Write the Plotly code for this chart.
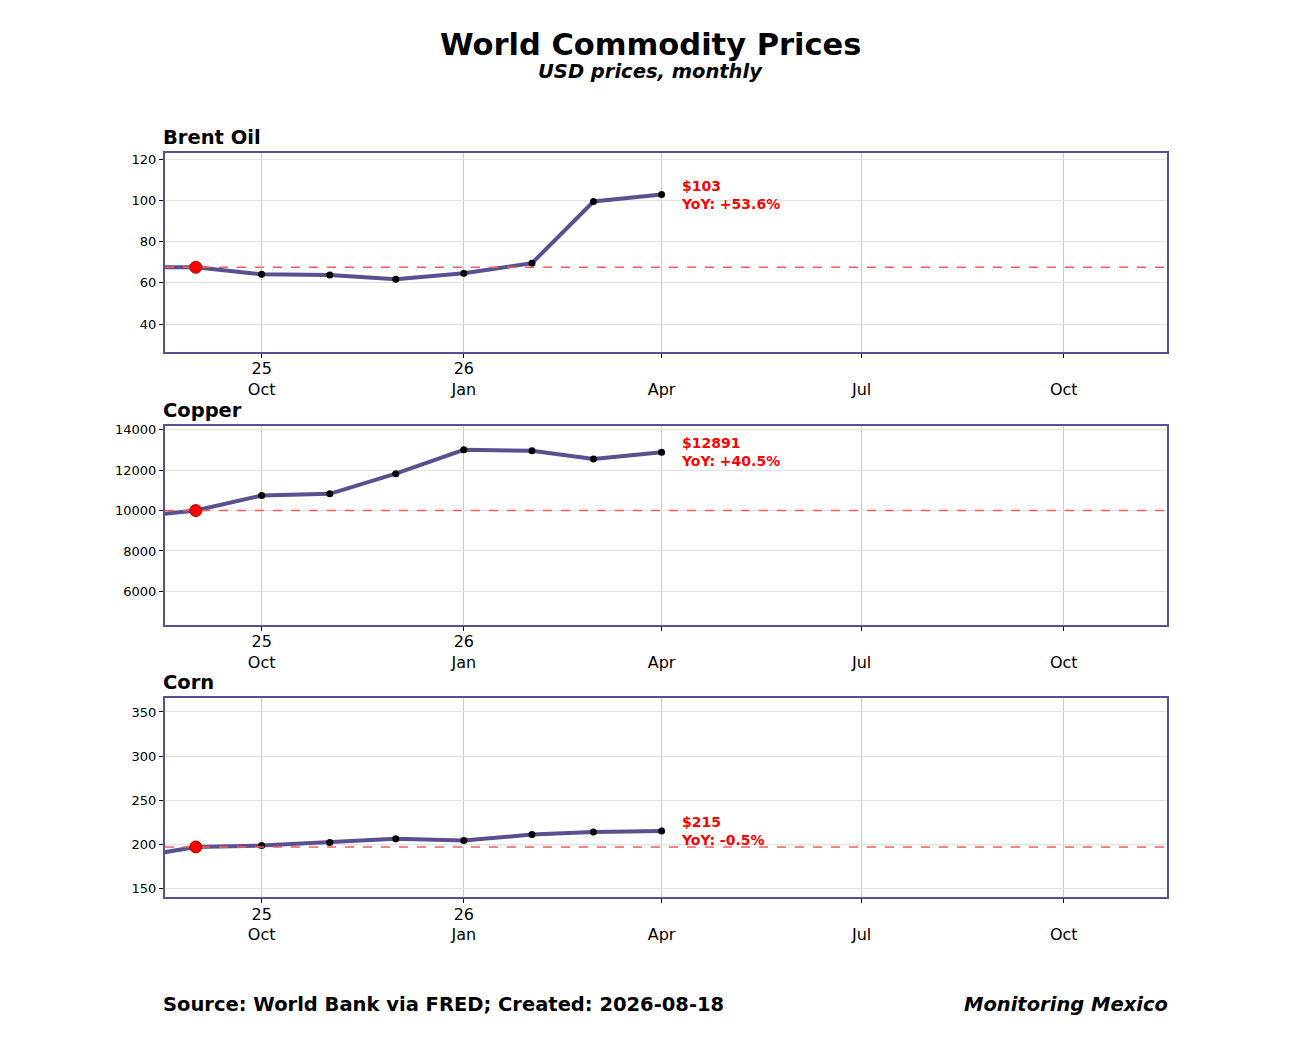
import plotly.graph_objects as go
from plotly.subplots import make_subplots

# monthly observations (first of month)
dates = ["2025-08-01", "2025-09-01", "2025-10-01", "2025-11-01", "2025-12-01",
         "2026-01-01", "2026-02-01", "2026-03-01", "2026-04-01"]
brent = [67.6, 67.6, 64.2, 63.8, 61.8, 64.7, 69.6, 99.6, 103.0]
copper = [9650, 10000, 10750, 10830, 11830, 13010, 12960, 12560, 12891]
corn = [184, 197.0, 198.6, 202.0, 206.3, 204.4, 211.0, 214.0, 215.0]

names = ["Brent Oil", "Copper", "Corn"]
series = [brent, copper, corn]
yoy = ["+53.6%", "+40.5%", "-0.5%"]
ref_idx = 1  # highlighted reference month

y_ranges = [[26.4, 123.4], [4320, 14200], [139.8, 365.8]]
y_ticks = [[40, 60, 80, 100, 120],
           [6000, 8000, 10000, 12000, 14000],
           [150, 200, 250, 300, 350]]

x_ticks = ["2025-10-01", "2026-01-01", "2026-04-01", "2026-07-01", "2026-10-01"]
x_ticktext = ["25<br>Oct", "26<br>Jan", " <br>Apr", " <br>Jul", " <br>Oct"]
x_range = ["2025-08-18", "2026-11-17"]

LINE = "#5a4f8f"
FONT = "DejaVu Sans"
H = 1040.0
DY = 9  # page offset


def py(px):
    # pixel row in the picture -> paper fraction
    return 1 - (px - DY) / H


fig = make_subplots(rows=3, cols=1)

domains = [[py(351), py(151)], [py(625), py(425)], [py(898), py(698)]]

for i, (name, vals) in enumerate(zip(names, series)):
    r = i + 1
    fig.add_trace(go.Scatter(
        x=dates, y=vals, mode="lines+markers",
        line=dict(color=LINE, width=4),
        marker=dict(color="black", size=7),
        showlegend=False), row=r, col=1)
    ref = vals[ref_idx]
    fig.add_trace(go.Scatter(
        x=x_range, y=[ref, ref], mode="lines",
        line=dict(color="#ff5a5a", width=1.5, dash="dash"),
        showlegend=False), row=r, col=1)
    fig.add_trace(go.Scatter(
        x=[dates[ref_idx]], y=[ref], mode="markers",
        marker=dict(color="red", size=12, line=dict(color="#b00000", width=1)),
        showlegend=False), row=r, col=1)

    xa = "xaxis" if i == 0 else f"xaxis{r}"
    ya = "yaxis" if i == 0 else f"yaxis{r}"
    fig.update_layout(**{
        xa: dict(domain=[0, 1], type="date", range=x_range,
                 tickvals=x_ticks, ticktext=x_ticktext,
                 ticks="outside", ticklen=4, tickcolor="black",
                 ticklabelstandoff=-3,
                 tickfont=dict(family=FONT, size=16, color="black"),
                 showgrid=True, gridcolor="#cccccc", gridwidth=1,
                 showline=True, mirror=True, linecolor=LINE, linewidth=2,
                 zeroline=False),
        ya: dict(domain=domains[i], range=y_ranges[i], tickvals=y_ticks[i],
                 tickformat="d",
                 ticks="outside", ticklen=4, tickcolor="black",
                 tickfont=dict(family=FONT, size=13, color="black"),
                 showgrid=True, gridcolor="#e3e3e3", gridwidth=1,
                 showline=True, mirror=True, linecolor=LINE, linewidth=2,
                 zeroline=False),
    })

    xref = "x" if i == 0 else f"x{r}"
    yref = "y" if i == 0 else f"y{r}"
    fig.add_annotation(
        x=dates[-1], y=vals[-1], xref=xref, yref=yref,
        text=f"<b>${vals[-1]:.0f}<br>YoY: {yoy[i]}</b>",
        showarrow=False, xanchor="left", yanchor="middle", align="left",
        xshift=17, font=dict(family=FONT, size=14, color="red"))
    fig.add_annotation(
        x=0, y=domains[i][1], xref="paper", yref="paper",
        text=f"<b>{name}</b>", showarrow=False,
        xanchor="left", yanchor="bottom", yshift=2, xshift=-4,
        font=dict(family=FONT, size=19.5, color="black"))

fig.add_annotation(x=(650 - 164) / 1004, y=py(43), xref="paper", yref="paper",
                   text="<b>World Commodity Prices</b>", showarrow=False,
                   xanchor="center", yanchor="middle",
                   font=dict(family=FONT, size=30.5, color="black"))
fig.add_annotation(x=(650 - 164) / 1004, y=py(70), xref="paper", yref="paper",
                   text="<b><i>USD prices, monthly</i></b>", showarrow=False,
                   xanchor="center", yanchor="middle",
                   font=dict(family=FONT, size=19.5, color="black"))
fig.add_annotation(x=0, y=py(1005), xref="paper", yref="paper",
                   text="<b>Source: World Bank via FRED; Created: 2026-08-18</b>",
                   showarrow=False, xanchor="left", yanchor="middle", xshift=-4,
                   font=dict(family=FONT, size=19.5, color="black"))
fig.add_annotation(x=1, y=py(1005), xref="paper", yref="paper",
                   text="<b><i>Monitoring Mexico</i></b>",
                   showarrow=False, xanchor="right", yanchor="middle", xshift=3,
                   font=dict(family=FONT, size=19.5, color="black"))

fig.update_layout(
    width=1300, height=1040,
    margin=dict(l=157, r=141, t=0, b=0),
    paper_bgcolor="white", plot_bgcolor="white",
    font=dict(family=FONT, color="black"),
    showlegend=False,
)

fig.write_html("out.html")
